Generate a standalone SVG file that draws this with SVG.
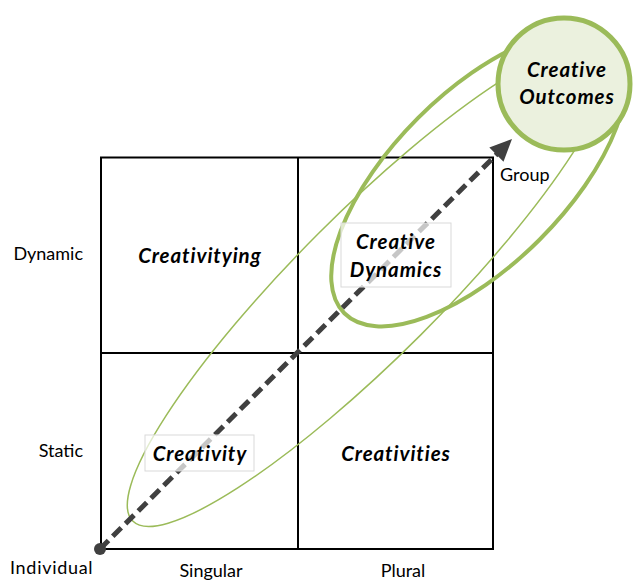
<svg xmlns="http://www.w3.org/2000/svg" width="634" height="581" viewBox="0 0 634 581">
<style>
.grid{fill:none;stroke:#000;stroke-width:2}
.ell{fill:none;stroke:#9bbb59}
.lbl{font-family:Lato,"Liberation Sans",sans-serif;font-size:18px;fill:#000}
.nd{font-family:Lato,"Liberation Sans",sans-serif;font-size:20.5px;font-weight:bold;font-style:italic;fill:#000;text-anchor:middle;letter-spacing:0.9px}
.box{fill:#fff;fill-opacity:0.7;stroke:#d9d9d9;stroke-width:1}
</style>
<rect width="634" height="581" fill="#fff"/>
<g id="grid">
<rect class="grid" x="101" y="157.5" width="392" height="391.5"/>
<line class="grid" x1="298" y1="157.5" x2="298" y2="549"/>
<line class="grid" x1="101" y1="353" x2="493" y2="353"/>
</g>
<g id="ellipses">
<ellipse class="ell" stroke-width="1.5" cx="0" cy="0" rx="335" ry="72" transform="translate(369.6 284.2) rotate(-45)"/>
<ellipse class="ell" stroke-width="4" cx="0" cy="0" rx="190" ry="86" transform="translate(478.7 178.9) rotate(-45)"/>
</g>
<g id="connectors">
<line x1="100" y1="549" x2="499" y2="152" stroke="#404040" stroke-width="5" stroke-dasharray="12 6"/>
<polygon points="512,139 503.5,161.7 489.3,147.5" fill="#404040"/>
<circle cx="100" cy="549" r="6" fill="#404040"/>
</g>
<g id="creative-outcomes">
<circle cx="564" cy="84" r="66" fill="#ebf1de" stroke="#9bbb59" stroke-width="5"/>
<text class="nd" x="567" y="77">Creative</text>
<text class="nd" x="567" y="104">Outcomes</text>
</g>
<g id="creativitying">
<text class="nd" x="200" y="263">Creativitying</text>
</g>
<g id="creative-dynamics">
<rect class="box" x="341" y="223" width="110" height="64"/>
<text class="nd" x="396" y="249">Creative</text>
<text class="nd" x="396" y="277">Dynamics</text>
</g>
<g id="creativity">
<rect class="box" x="145" y="435" width="109" height="36"/>
<text class="nd" x="200" y="461">Creativity</text>
</g>
<g id="creativities">
<text class="nd" x="396" y="461">Creativities</text>
</g>
<g id="axis-labels">
<text class="lbl" x="83" y="260" text-anchor="end">Dynamic</text>
<text class="lbl" x="83" y="457" text-anchor="end">Static</text>
<text class="lbl" x="10" y="574" letter-spacing="0.7">Individual</text>
<text class="lbl" x="211" y="577" text-anchor="middle">Singular</text>
<text class="lbl" x="403" y="577" text-anchor="middle">Plural</text>
<text class="lbl" x="500" y="181">Group</text>
</g>
</svg>
